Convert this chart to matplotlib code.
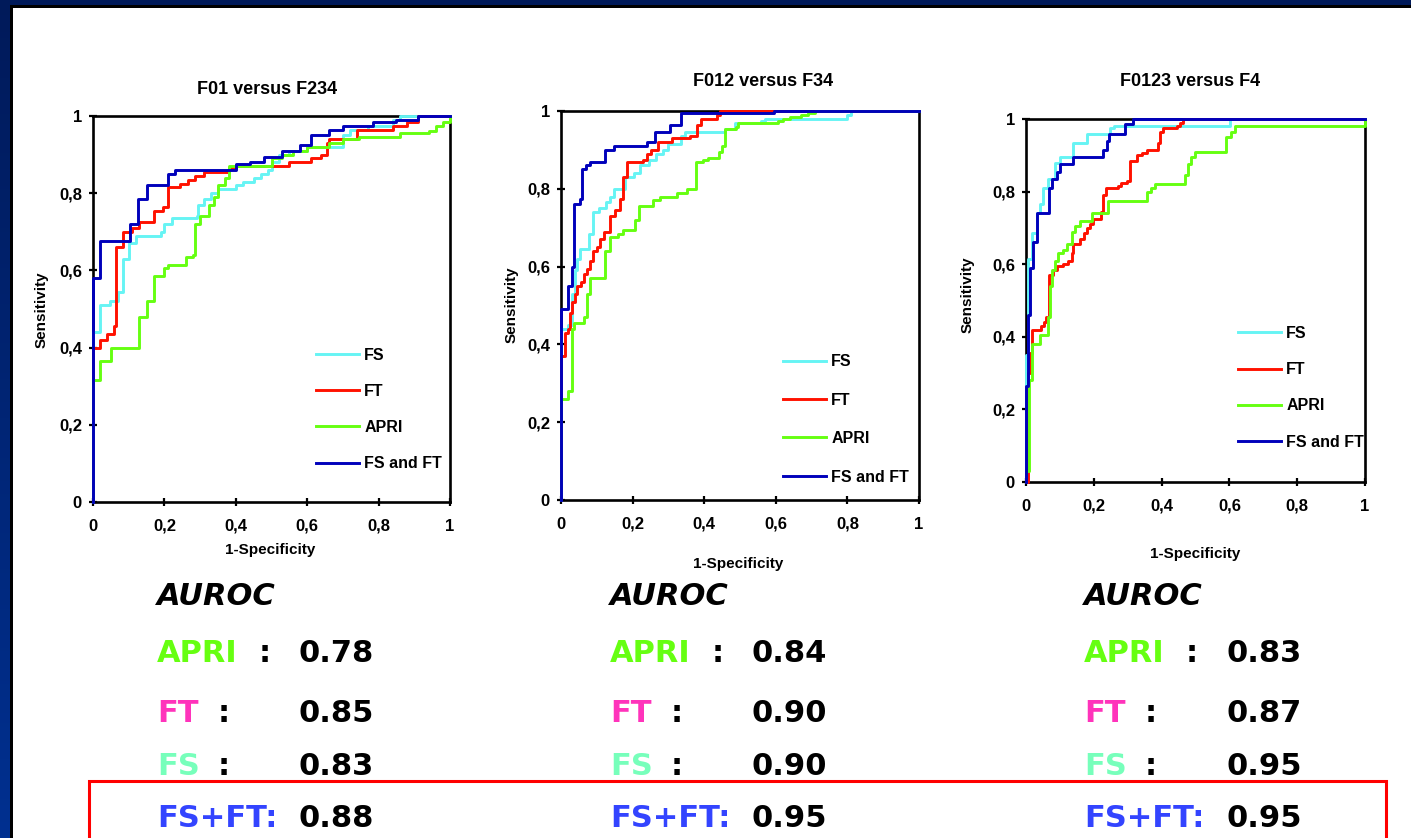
import matplotlib
matplotlib.use("Agg")
import matplotlib.pyplot as plt
import numpy as np
from matplotlib.patches import Rectangle
from matplotlib.colors import LinearSegmentedColormap
from matplotlib.lines import Line2D
from matplotlib.ticker import FixedLocator, FuncFormatter

# ---------------- data ----------------
titles = ["F01 versus F234", "F012 versus F34", "F0123 versus F4"]
series_names = ["FS", "FT", "APRI", "FS and FT"]
tick_values = [0, 0.2, 0.4, 0.6, 0.8, 1.0]
tick_labels = ["0", "0,2", "0,4", "0,6", "0,8", "1"]

# Plot 1 : F01 versus F234
p1_fs_x = [0, 0, 0.02, 0.047, 0.07, 0.084, 0.10, 0.12, 0.19, 0.20, 0.22, 0.29, 0.295, 0.31, 0.33, 0.35, 0.40, 0.42, 0.45, 0.47, 0.49, 0.50, 0.52, 0.55, 0.60, 0.70, 0.72, 0.77, 0.84, 0.86, 1.0]
p1_fs_y = [0, 0.44, 0.51, 0.52, 0.545, 0.63, 0.67, 0.69, 0.70, 0.72, 0.735, 0.74, 0.77, 0.785, 0.80, 0.81, 0.82, 0.83, 0.84, 0.85, 0.86, 0.88, 0.90, 0.91, 0.92, 0.95, 0.965, 0.975, 0.99, 1.0, 1.0]
p1_ft_x = [0, 0, 0.02, 0.04, 0.06, 0.065, 0.085, 0.11, 0.13, 0.17, 0.195, 0.21, 0.245, 0.265, 0.285, 0.31, 0.38, 0.40, 0.55, 0.61, 0.64, 0.655, 0.66, 0.74, 0.84, 0.88, 0.91, 1.0]
p1_ft_y = [0, 0.40, 0.42, 0.435, 0.455, 0.66, 0.70, 0.71, 0.725, 0.755, 0.765, 0.815, 0.825, 0.835, 0.845, 0.855, 0.865, 0.87, 0.88, 0.89, 0.90, 0.93, 0.94, 0.965, 0.975, 0.985, 1.0, 1.0]
p1_apri_x = [0, 0, 0.02, 0.05, 0.13, 0.15, 0.17, 0.20, 0.21, 0.26, 0.28, 0.285, 0.30, 0.325, 0.34, 0.35, 0.37, 0.38, 0.50, 0.53, 0.56, 0.60, 0.66, 0.70, 0.745, 0.86, 0.94, 0.96, 0.98, 1.0]
p1_apri_y = [0, 0.315, 0.365, 0.40, 0.48, 0.52, 0.585, 0.605, 0.615, 0.635, 0.64, 0.72, 0.74, 0.77, 0.79, 0.82, 0.84, 0.87, 0.89, 0.90, 0.91, 0.92, 0.93, 0.94, 0.945, 0.955, 0.96, 0.975, 0.985, 1.0]
p1_both_x = [0, 0, 0.02, 0.105, 0.125, 0.15, 0.21, 0.23, 0.40, 0.44, 0.48, 0.53, 0.58, 0.61, 0.66, 0.70, 0.785, 0.85, 0.91, 1.0]
p1_both_y = [0, 0.58, 0.675, 0.72, 0.785, 0.82, 0.85, 0.86, 0.875, 0.88, 0.895, 0.91, 0.925, 0.95, 0.965, 0.975, 0.985, 0.99, 1.0, 1.0]

# Plot 2 : F012 versus F34
p2_fs_x = [0, 0, 0.02, 0.031, 0.04, 0.045, 0.052, 0.077, 0.088, 0.105, 0.125, 0.138, 0.147, 0.179, 0.205, 0.22, 0.245, 0.265, 0.285, 0.30, 0.335, 0.345, 0.458, 0.486, 0.56, 0.57, 0.80, 0.81, 1.0]
p2_fs_y = [0, 0.44, 0.45, 0.53, 0.59, 0.62, 0.645, 0.685, 0.74, 0.75, 0.765, 0.78, 0.80, 0.83, 0.84, 0.86, 0.875, 0.89, 0.90, 0.915, 0.935, 0.945, 0.955, 0.97, 0.975, 0.98, 0.99, 1.0, 1.0]
p2_ft_x = [0, 0, 0.01, 0.019, 0.025, 0.03, 0.04, 0.045, 0.055, 0.065, 0.072, 0.08, 0.09, 0.10, 0.11, 0.12, 0.138, 0.15, 0.165, 0.173, 0.184, 0.23, 0.24, 0.25, 0.27, 0.31, 0.36, 0.379, 0.39, 0.437, 0.444, 1.0]
p2_ft_y = [0, 0.37, 0.43, 0.44, 0.48, 0.51, 0.53, 0.55, 0.56, 0.58, 0.595, 0.615, 0.64, 0.65, 0.67, 0.69, 0.73, 0.745, 0.775, 0.83, 0.87, 0.875, 0.89, 0.90, 0.92, 0.93, 0.935, 0.965, 0.98, 0.99, 1.0, 1.0]
p2_apri_x = [0, 0, 0.02, 0.031, 0.035, 0.063, 0.072, 0.082, 0.124, 0.138, 0.16, 0.173, 0.207, 0.217, 0.258, 0.277, 0.325, 0.351, 0.377, 0.398, 0.41, 0.44, 0.45, 0.458, 0.49, 0.495, 0.607, 0.62, 0.64, 0.67, 0.69, 0.71, 1.0]
p2_apri_y = [0, 0.26, 0.28, 0.44, 0.455, 0.47, 0.53, 0.57, 0.64, 0.675, 0.685, 0.695, 0.72, 0.755, 0.77, 0.78, 0.79, 0.80, 0.87, 0.875, 0.88, 0.895, 0.91, 0.955, 0.96, 0.97, 0.975, 0.98, 0.985, 0.99, 0.995, 1.0, 1.0]
p2_both_x = [0, 0, 0.02, 0.03, 0.035, 0.054, 0.059, 0.07, 0.082, 0.124, 0.147, 0.24, 0.263, 0.305, 0.335, 0.595, 1.0]
p2_both_y = [0, 0.49, 0.55, 0.60, 0.76, 0.775, 0.85, 0.86, 0.87, 0.90, 0.91, 0.92, 0.945, 0.965, 0.995, 1.0, 1.0]

# Plot 3 : F0123 versus F4
p3_fs_x = [0, 0, 0.007, 0.017, 0.031, 0.041, 0.051, 0.066, 0.085, 0.10, 0.139, 0.179, 0.248, 0.26, 0.601, 1.0]
p3_fs_y = [0, 0.35, 0.615, 0.685, 0.74, 0.765, 0.81, 0.835, 0.88, 0.895, 0.935, 0.96, 0.975, 0.98, 1.0, 1.0]
p3_ft_x = [0, 0.006, 0.012, 0.017, 0.045, 0.052, 0.06, 0.069, 0.081, 0.09, 0.11, 0.125, 0.135, 0.139, 0.159, 0.17, 0.18, 0.19, 0.198, 0.22, 0.228, 0.235, 0.272, 0.28, 0.297, 0.308, 0.326, 0.341, 0.356, 0.39, 0.395, 0.405, 0.444, 0.455, 0.464, 1.0]
p3_ft_y = [0, 0.30, 0.355, 0.42, 0.43, 0.44, 0.455, 0.57, 0.585, 0.595, 0.60, 0.61, 0.63, 0.655, 0.67, 0.685, 0.70, 0.71, 0.725, 0.745, 0.79, 0.81, 0.815, 0.825, 0.83, 0.885, 0.90, 0.905, 0.915, 0.935, 0.965, 0.975, 0.98, 0.99, 1.0, 1.0]
p3_apri_x = [0, 0, 0.01, 0.017, 0.041, 0.066, 0.071, 0.076, 0.085, 0.095, 0.11, 0.12, 0.135, 0.144, 0.159, 0.194, 0.243, 0.356, 0.37, 0.38, 0.469, 0.478, 0.488, 0.498, 0.591, 0.606, 0.616, 1.0]
p3_apri_y = [0, 0.03, 0.28, 0.38, 0.405, 0.455, 0.54, 0.585, 0.61, 0.63, 0.64, 0.655, 0.69, 0.705, 0.72, 0.74, 0.775, 0.80, 0.81, 0.82, 0.845, 0.875, 0.895, 0.91, 0.95, 0.965, 0.98, 1.0]
p3_both_x = [0, 0, 0.006, 0.012, 0.022, 0.031, 0.069, 0.076, 0.09, 0.10, 0.139, 0.228, 0.238, 0.245, 0.292, 0.316, 1.0]
p3_both_y = [0, 0.265, 0.46, 0.59, 0.66, 0.74, 0.81, 0.835, 0.855, 0.875, 0.895, 0.915, 0.94, 0.96, 0.985, 1.0, 1.0]

# AUROC table
auroc_labels = ["APRI", "FT", "FS", "FS+FT"]
auroc_p1 = ["0.78", "0.85", "0.83", "0.88"]
auroc_p2 = ["0.84", "0.90", "0.90", "0.95"]
auroc_p3 = ["0.83", "0.87", "0.95", "0.95"]

# ---------------- style ----------------
W, H = 1411, 838
DPI = 100
line_colors = ["#66f4f4", "#ff1100", "#66ff11", "#0000bb"]
label_colors = ["#66ff11", "#ff33bb", "#77ffbb", "#3344ff"]
PFONT = ["Liberation Sans Narrow", "Liberation Sans", "DejaVu Sans"]

fig = plt.figure(figsize=(W / DPI, H / DPI), dpi=DPI)

# background frame
bg = fig.add_axes([0, 0, 1, 1], zorder=-10)
grad = np.linspace(0, 1, 256).reshape(-1, 1)
cmap = LinearSegmentedColormap.from_list("nv", ["#001a5a", "#003090"])
bg.imshow(grad, cmap=cmap, extent=[0, W, H, 0], aspect="auto")
bg.add_patch(Rectangle((10, 5), W, H, facecolor="black", edgecolor="none"))
bg.add_patch(Rectangle((13, 8), W, H, facecolor="white", edgecolor="none"))
bg.set_xlim(0, W)
bg.set_ylim(H, 0)
bg.axis("off")


def fx(x):
    return x / W


def fy(y):
    return 1 - y / H


panels = [
    dict(box=(93, 116, 450, 502), title=(267, 90), xl=(270, 550), yl=(42, 310),
         leg=(0.625, 0.40), lsp=1.33,
         data=[(p1_fs_x, p1_fs_y), (p1_ft_x, p1_ft_y), (p1_apri_x, p1_apri_y), (p1_both_x, p1_both_y)]),
    dict(box=(561, 111, 919, 500), title=(763, 81), xl=(738, 564), yl=(512, 305),
         leg=(0.62, 0.375), lsp=1.47,
         data=[(p2_fs_x, p2_fs_y), (p2_ft_x, p2_ft_y), (p2_apri_x, p2_apri_y), (p2_both_x, p2_both_y)]),
    dict(box=(1026, 119, 1365, 482), title=(1190, 81), xl=(1195, 554), yl=(968, 295),
         leg=(0.625, 0.43), lsp=1.33,
         data=[(p3_fs_x, p3_fs_y), (p3_ft_x, p3_ft_y), (p3_apri_x, p3_apri_y), (p3_both_x, p3_both_y)]),
]

for i, p in enumerate(panels):
    l, t, r, b = p["box"]
    ax = fig.add_axes([fx(l), fy(b), (r - l) / W, (b - t) / H])
    handles = []
    for (xs, ys), c, name in zip(p["data"], line_colors, series_names):
        ln, = ax.plot(xs, ys, drawstyle="steps-post", color=c, lw=2.1,
                      clip_on=False, zorder=3, label=name)
        handles.append(ln)
    ax.set_xlim(0, 1)
    ax.set_ylim(0, 1)
    for s in ax.spines.values():
        s.set_linewidth(1.9)
        s.set_color("black")
    ax.xaxis.set_major_locator(FixedLocator(tick_values))
    ax.yaxis.set_major_locator(FixedLocator(tick_values))
    ax.xaxis.set_major_formatter(FuncFormatter(lambda v, pos: tick_labels[pos]))
    ax.yaxis.set_major_formatter(FuncFormatter(lambda v, pos: tick_labels[pos]))
    ax.tick_params(direction="inout", length=6, width=1.6)
    ax.tick_params(axis="x", pad=9)
    ax.tick_params(axis="y", pad=5)
    for lab in ax.get_xticklabels() + ax.get_yticklabels():
        lab.set_family(PFONT)
        lab.set_fontweight("bold")
        lab.set_fontsize(12)
    leg = ax.legend(handles=handles, loc="upper left", bbox_to_anchor=p["leg"],
                    frameon=False, borderpad=0, borderaxespad=0,
                    handlelength=2.67, handletextpad=0.35, labelspacing=p["lsp"],
                    prop=dict(family=PFONT, weight="bold", size=11.5))
    for h in leg.legend_handles:
        h.set_linewidth(2.1)
    fig.text(fx(p["title"][0]), fy(p["title"][1]), titles[i], ha="center", va="center",
             family=PFONT, fontweight="bold", fontsize=13)
    fig.text(fx(p["xl"][0]), fy(p["xl"][1]), "1-Specificity", ha="center", va="center",
             family=PFONT, fontweight="bold", fontsize=11)
    fig.text(fx(p["yl"][0]), fy(p["yl"][1]), "Sensitivity", ha="center", va="center",
             rotation=90, family=PFONT, fontweight="bold", fontsize=11)

# AUROC table
col_x = [157, 610, 1084]
row_base = [662, 722, 775, 827]
colon_dx = [102, 61, 61, None]
value_dx = 142
TF = dict(family="DejaVu Sans", fontweight="bold", fontsize=22, va="baseline", ha="left")
for cx, vals in zip(col_x, [auroc_p1, auroc_p2, auroc_p3]):
    fig.text(fx(cx), fy(605), "AUROC", style="italic", color="black", **TF)
    for k, (lab, col, yb, cdx, v) in enumerate(zip(auroc_labels, label_colors, row_base, colon_dx, vals)):
        if cdx is None:
            fig.text(fx(cx), fy(yb), lab + ":", color=col, **TF)
        else:
            fig.text(fx(cx), fy(yb), lab, color=col, **TF)
            fig.text(fx(cx + cdx), fy(yb), ":", color="black", **TF)
        fig.text(fx(cx + value_dx), fy(yb), v, color="black", **TF)

# red box around combined row
fig.patches.append(Rectangle((fx(89), fy(H + 20)), (1386 - 89) / W, (H + 20 - 781) / H,
                             transform=fig.transFigure, fill=False,
                             edgecolor="#ff0000", linewidth=2.2, figure=fig))

fig.savefig("out.png", dpi=DPI)
